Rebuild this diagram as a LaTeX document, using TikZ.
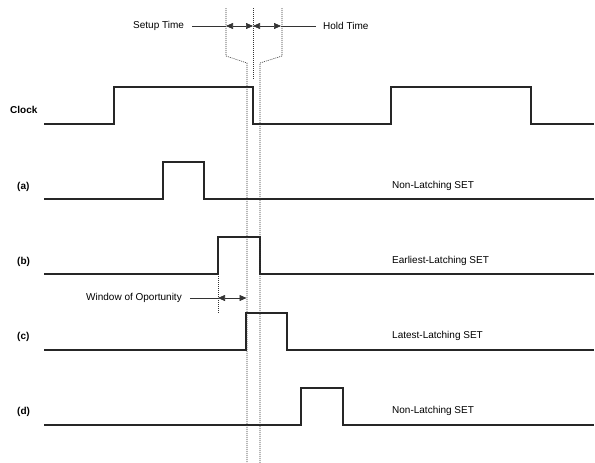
\documentclass[tikz,border=0pt]{standalone}
\usepackage{fontspec}
\setmainfont{Liberation Sans}
\usetikzlibrary{arrows.meta}
\begin{document}
\begin{tikzpicture}[x=1pt,y=-1pt,
  wave/.style={line width=1.1pt,black!85,line join=miter},
  guide/.style={dash pattern=on 1pt off 1pt,line width=0.6pt,black!80},
  dim/.style={line width=0.6pt,black!80},
  dimarrow/.style={dim,{Triangle[length=7pt,width=6pt]}-{Triangle[length=7pt,width=6pt]}},
  lbl/.style={font=\fontsize{10}{12}\selectfont\bfseries,inner sep=0pt},
  txt/.style={font=\fontsize{10}{12}\selectfont,inner sep=0pt,anchor=west}]
\useasboundingbox (0,0) rectangle (595,463);
% waveforms
\draw[wave] (44,124) -- (114,124) -- (114,87) -- (253,87) -- (253,124) -- (391,124) -- (391,87) -- (531,87) -- (531,124) -- (594,124);
\draw[wave] (44,199) -- (163,199) -- (163,162) -- (204,162) -- (204,199) -- (594,199);
\draw[wave] (44,274) -- (218,274) -- (218,237) -- (260,237) -- (260,274) -- (594,274);
\draw[wave] (44,350) -- (246,350) -- (246,313) -- (287,313) -- (287,350) -- (594,350);
\draw[wave] (44,425) -- (301,425) -- (301,388) -- (343,388) -- (343,425) -- (594,425);
% guide lines
\draw[guide] (226,8) -- (226,56) -- (247,63) -- (247,463);
\draw[guide] (282,8) -- (282,56) -- (260,63) -- (260,463);
\draw[guide] (253,8) -- (253,80);
\draw[guide] (218,276) -- (218,313);
% coordinates
\coordinate (sl) at (226,26);
\coordinate (sm) at (253,26);
\coordinate (sr) at (281,26);
\coordinate (wl) at (218,298);
\coordinate (wr) at (246.5,298);
% labels
\node[lbl,anchor=west] (clk) at (10,110) {Clock};
\node[lbl,anchor=west] (la) at (17,187) {(a)};
\node[lbl,anchor=west] (lb) at (17,262) {(b)};
\node[lbl,anchor=west] (lc) at (17,337) {(c)};
\node[lbl,anchor=west] (ld) at (17,412) {(d)};
\node[txt] (ta) at (392,186) {Non-Latching SET};
\node[txt] (tb) at (392,261) {Earliest-Latching SET};
\node[txt] (tc) at (392,336) {Latest-Latching SET};
\node[txt] (td) at (392,411) {Non-Latching SET};
\node[txt] (setup) at (133,26) {Setup Time};
\node[txt] (hold) at (323,26) {Hold Time};
\node[txt] (win) at (86,298) {Window of Oportunity};
% dimension arrows
\draw[dim] (setup.east) ++(8,0) -- (sl);
\draw[dimarrow] (sl) -- (sm);
\draw[dimarrow] (sm) -- (sr);
\draw[dim] (sr) -- ([xshift=-7pt]hold.west);
\draw[dim] ([xshift=8pt]win.east) -- (wl);
\draw[dimarrow] (wl) -- (wr);
\end{tikzpicture}
\end{document}
